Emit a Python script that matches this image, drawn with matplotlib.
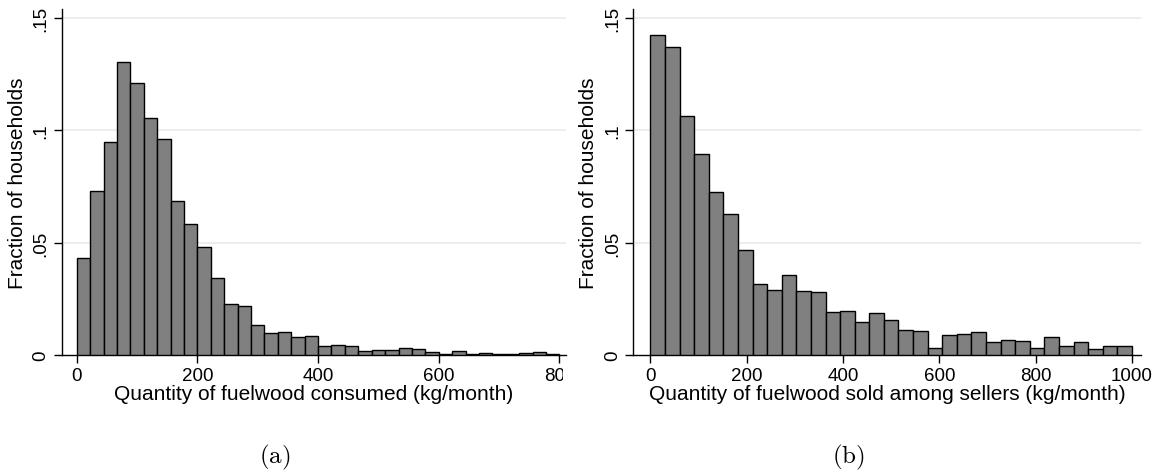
import matplotlib
matplotlib.use("Agg")
import matplotlib.pyplot as plt
import numpy as np
from matplotlib.transforms import Bbox, TransformedBbox

plt.rcParams['font.family'] = ['Liberation Sans', 'DejaVu Sans']
plt.rcParams['mathtext.fontset'] = 'cm'

# fraction of households per bin
consumed = [0.0431, 0.0729, 0.0948, 0.1304, 0.1210, 0.1056, 0.0959, 0.0686, 0.0581,
            0.0479, 0.0342, 0.0228, 0.0216, 0.0132, 0.0096, 0.0104, 0.0079, 0.0083,
            0.0039, 0.0046, 0.0039, 0.0019, 0.0022, 0.0022, 0.0030, 0.0025, 0.0012,
            0.0006, 0.0018, 0.0003, 0.0009, 0.0006, 0.0003, 0.0007, 0.0012, 0.0003]
consumed_range = (0, 800)

sold = [0.1425, 0.1372, 0.1064, 0.0895, 0.0723, 0.0625, 0.0465, 0.0317, 0.0289,
        0.0357, 0.0284, 0.0280, 0.0193, 0.0197, 0.0145, 0.0188, 0.0157, 0.0113,
        0.0105, 0.0033, 0.0089, 0.0092, 0.0101, 0.0059, 0.0065, 0.0061, 0.0033,
        0.0081, 0.0041, 0.0056, 0.0025, 0.0039, 0.0039]
sold_range = (0, 1000)

yticks = [0, 0.05, 0.1, 0.15]
yticklabels = ['0', '.05', '.1', '.15']


def draw_hist(ax, fracs, rng, xticks, xlim, xlabel):
    edges = np.linspace(rng[0], rng[1], len(fracs) + 1)
    ax.bar(edges[:-1], fracs, width=np.diff(edges), align='edge',
           color='#808080', edgecolor='black', linewidth=1.0, zorder=3)
    ax.set_xlim(*xlim)
    ax.set_ylim(0, 0.1539)
    ax.set_yticks(yticks)
    ax.set_yticklabels(yticklabels, rotation=90, va='center')
    ax.set_xticks(xticks)
    for y in yticks[1:]:
        ax.axhline(y, color='#eaeaea', linewidth=1.2, zorder=1)
    for s in ['top', 'right']:
        ax.spines[s].set_visible(False)
    for s in ['left', 'bottom']:
        ax.spines[s].set_linewidth(1.0)
    ax.tick_params(axis='both', labelsize=13.5, length=6, width=1, pad=3)
    ax.set_xlabel(xlabel, fontsize=15, labelpad=0)
    ax.set_ylabel('Fraction of households', fontsize=15, labelpad=4)


fig = plt.figure(figsize=(11.6, 4.77), dpi=100)
ax1 = fig.add_axes([0.0532, 0.2537, 0.4347, 0.7253])
ax2 = fig.add_axes([0.546, 0.2537, 0.4377, 0.7253])

draw_hist(ax1, consumed, consumed_range, [0, 200, 400, 600, 800], (-24.9, 810.9),
          'Quantity of fuelwood consumed (kg/month)')
draw_hist(ax2, sold, sold_range, [0, 200, 400, 600, 800, 1000], (-35.4, 1019),
          'Quantity of fuelwood sold among sellers (kg/month)')

# the left subfigure is cropped at its right edge, cutting the last tick label
clip = TransformedBbox(Bbox([[0, 0], [563 / 1160, 1]]), fig.transFigure)
for lab in ax1.get_xticklabels():
    lab.set_clip_box(clip)
    lab.set_clip_on(True)

fig.text(275 / 1160, 1 - 457 / 477, r'$\mathrm{(a)}$', fontsize=18, ha='center', va='center')
fig.text(848 / 1160, 1 - 457 / 477, r'$\mathrm{(b)}$', fontsize=18, ha='center', va='center')

fig.savefig('out.png', dpi=100)
